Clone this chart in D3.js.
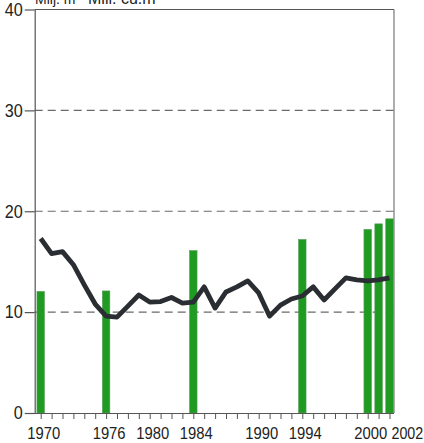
<!DOCTYPE html>
<html>
<head>
<meta charset="utf-8">
<script src="https://cdn.jsdelivr.net/npm/d3@7"></script>
<style>
  html, body { margin: 0; padding: 0; background: #fff; overflow: hidden; }
  svg { display: block; }
</style>
</head>
<body>
<svg id="chart" width="424" height="443"></svg>
<script>
// Annual series (1970–2002), million m³
const years = d3.range(1970, 2003);
const lineValues = [
  17.3, 15.8, 16.0, 14.7, 12.7, 10.8, 9.6, 9.5, 10.6, 11.7,
  11.0, 11.05, 11.45, 10.9, 11.0, 12.5, 10.4, 12.0, 12.5, 13.1,
  11.9, 9.6, 10.7, 11.3, 11.6, 12.5, 11.2, 12.3, 13.4, 13.2,
  13.1, 13.2, 13.4
];
// Selected survey years shown as bars
const barYears = [1970, 1976, 1984, 1994, 2000, 2001, 2002];
const barValues = [12.05, 12.1, 16.1, 17.2, 18.2, 18.75, 19.25];
// Axis labels
const yTicks = [0, 10, 20, 30, 40];
const yGrid = [10, 20, 30];
const xLabels = [1970, 1976, 1980, 1984, 1990, 1994, 2000, 2002];
const unitLabels = ["Milj. m³", "Mill. cu.m"];

const FONT = "Liberation Sans, Arial, sans-serif";
const svg = d3.select("#chart");
const plotLeft = 34.7, plotRight = 394, plotTop = 9.5, plotBottom = 413;

const x = d3.scaleLinear().domain([1970, 2002]).range([40.7, 389.5]);
const y = d3.scaleLinear().domain([0, 40]).range([plotBottom, plotTop]);

// Unit captions, sitting just above the frame
svg.append("g").selectAll("text").data(unitLabels).join("text")
  .attr("transform", (d, i) => i === 0 ? "translate(35,4)" : "translate(88,4)")
  .attr("font-family", FONT).attr("font-size", (d, i) => i === 0 ? 14 : 16).attr("fill", "#222")
  .text(d => d);

// Dashed grid lines
svg.append("g").selectAll("line").data(yGrid).join("line")
  .attr("x1", plotLeft).attr("x2", plotRight)
  .attr("y1", d => y(d)).attr("y2", d => y(d))
  .attr("stroke", "#6a6a6a").attr("stroke-width", 1.1)
  .attr("stroke-dasharray", "8 5");

// Frame: top and right borders
svg.append("line").attr("x1", plotLeft).attr("x2", plotRight).attr("y1", plotTop).attr("y2", plotTop)
  .attr("stroke", "#555").attr("stroke-width", 1.2);
svg.append("line").attr("x1", plotRight).attr("x2", plotRight).attr("y1", plotTop).attr("y2", plotBottom)
  .attr("stroke", "#777").attr("stroke-width", 1.2);

// Bars
const barW = 7.5;
svg.append("g").selectAll("rect").data(barYears.map((yr, i) => ({yr, v: barValues[i]}))).join("rect")
  .attr("x", d => x(d.yr) - barW / 2)
  .attr("width", barW)
  .attr("y", d => y(d.v))
  .attr("height", d => y(0) - y(d.v))
  .attr("fill", "#1f9b22")
  .attr("stroke", "#5a9a5a").attr("stroke-width", 0.6);

// Line series
const line = d3.line().x((d, i) => x(years[i])).y(d => y(d));
svg.append("path").datum(lineValues)
  .attr("d", line)
  .attr("fill", "none")
  .attr("stroke", "#2a2e33")
  .attr("stroke-width", 4.8)
  .attr("stroke-linejoin", "round");

// Y axis (condensed numerals)
const yAxis = svg.append("g").attr("transform", `translate(${plotLeft},0)`)
  .call(d3.axisLeft(y).tickValues(yTicks).tickSize(10).tickSizeOuter(0).tickPadding(2));
yAxis.attr("font-family", FONT).attr("font-size", 18);
yAxis.select(".domain").attr("stroke", "#555").attr("stroke-width", 1.2);
yAxis.selectAll(".tick line").attr("stroke", "#555").attr("stroke-width", 1.2);
yAxis.selectAll(".tick text").attr("fill", "#222")
  .attr("x", -12 / 0.9).attr("transform", "scale(0.9,1)");

// X axis: yearly ticks; labels only on selected years
const xAxis = svg.append("g").attr("transform", `translate(0,${plotBottom})`)
  .call(d3.axisBottom(x).tickValues(years).tickSize(6).tickSizeOuter(0).tickFormat(() => ""));
xAxis.select(".domain").attr("d", `M${plotLeft - 5},0.5H${plotRight}`).attr("stroke", "#555").attr("stroke-width", 1.2);
xAxis.selectAll(".tick line").attr("stroke", "#555").attr("stroke-width", 1);
xAxis.selectAll(".tick text").remove();

svg.append("g").selectAll("text").data(xLabels).join("text")
  .attr("transform", d => d === 2002
    ? `translate(${x(d) + 2},439) scale(0.84,1)`
    : `translate(${x(d) + 3},439) scale(0.87,1)`)
  .attr("text-anchor", d => d === 2002 ? "start" : "middle")
  .attr("font-family", FONT).attr("font-size", 17).attr("fill", "#222")
  .text(d => d);
</script>
</body>
</html>
